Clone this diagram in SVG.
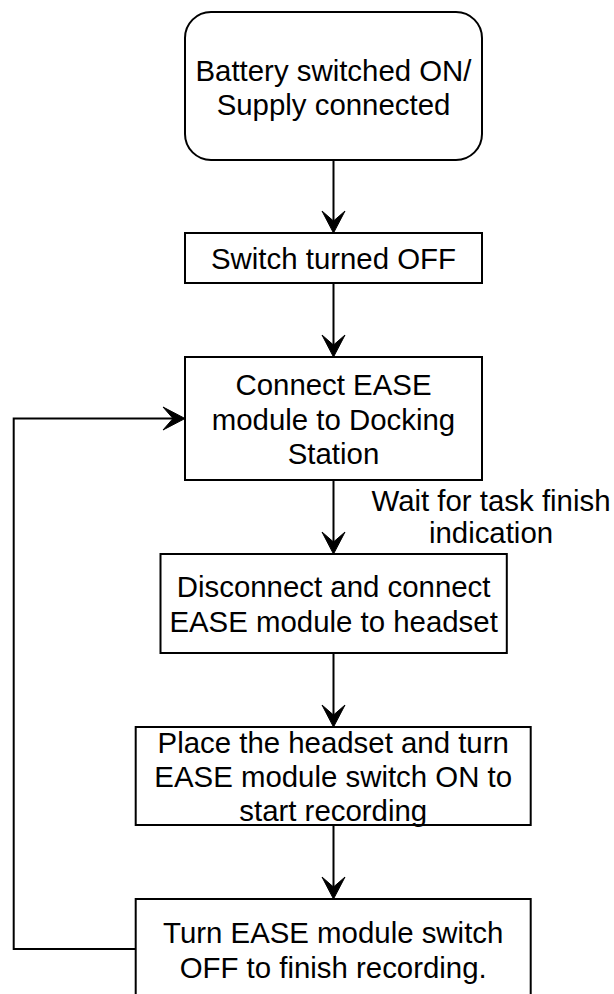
<svg xmlns="http://www.w3.org/2000/svg" width="614" height="994" viewBox="0 0 614 994">
  <style>
    .box { fill: #ffffff; stroke: #000000; stroke-width: 2; }
    .lbl { font-family: "Liberation Sans", Arial, sans-serif; font-size: 29.4px; fill: #000000; text-anchor: middle; }
    .edge { fill: none; stroke: #000000; stroke-width: 2; }
  </style>
  <defs>
    <marker id="arrow" markerUnits="userSpaceOnUse" viewBox="-23 -12.5 24 25" refX="-12" refY="0" markerWidth="24" markerHeight="25" orient="auto">
      <path d="M-22,-11.5 L0,0 L-22,11.5 L-12,0 Z" fill="#000000" stroke="#000000" stroke-width="1" stroke-linejoin="miter"/>
    </marker>
  </defs>
  <rect width="614" height="994" fill="#ffffff"/>

  <!-- connectors -->
  <g id="connectors">
    <path class="edge" d="M333.5,160 V221" marker-end="url(#arrow)"/>
    <path class="edge" d="M333.5,283 V345" marker-end="url(#arrow)"/>
    <path class="edge" d="M333.5,480 V542" marker-end="url(#arrow)"/>
    <path class="edge" d="M333.5,653 V715" marker-end="url(#arrow)"/>
    <path class="edge" d="M333.5,825 V887" marker-end="url(#arrow)"/>
    <path class="edge" d="M135.7,949 H13.7 V418.5 H173" marker-end="url(#arrow)"/>
    <text class="lbl" x="491" y="511">Wait for task finish</text>
    <text class="lbl" x="491" y="543">indication</text>
  </g>

  <g id="start">
    <rect class="box" x="185" y="12" width="297" height="148" rx="26" ry="26"/>
    <text class="lbl" x="333.5" y="80.5">Battery switched ON/</text>
    <text class="lbl" x="333.5" y="114.5">Supply connected</text>
  </g>

  <g id="switch-off">
    <rect class="box" x="185" y="233" width="297" height="50"/>
    <text class="lbl" x="333.5" y="269">Switch turned OFF</text>
  </g>

  <g id="connect-dock">
    <rect class="box" x="185" y="357" width="297" height="123"/>
    <text class="lbl" x="333.5" y="395">Connect EASE</text>
    <text class="lbl" x="333.5" y="429.5">module to Docking</text>
    <text class="lbl" x="333.5" y="464">Station</text>
  </g>

  <g id="connect-headset">
    <rect class="box" x="160.5" y="554" width="346.3" height="99"/>
    <text class="lbl" x="333.6" y="597">Disconnect and connect</text>
    <text class="lbl" x="333.6" y="631.5">EASE module to headset</text>
  </g>

  <g id="start-recording">
    <rect class="box" x="135.7" y="727" width="395" height="98"/>
    <text class="lbl" x="333.2" y="752.5">Place the headset and turn</text>
    <text class="lbl" x="333.2" y="786.7">EASE module switch ON to</text>
    <text class="lbl" x="333.2" y="821">start recording</text>
  </g>

  <g id="finish-recording">
    <rect class="box" x="135.7" y="899" width="395" height="110"/>
    <text class="lbl" x="333.2" y="943">Turn EASE module switch</text>
    <text class="lbl" x="333.2" y="977.5">OFF to finish recording.</text>
  </g>
</svg>
